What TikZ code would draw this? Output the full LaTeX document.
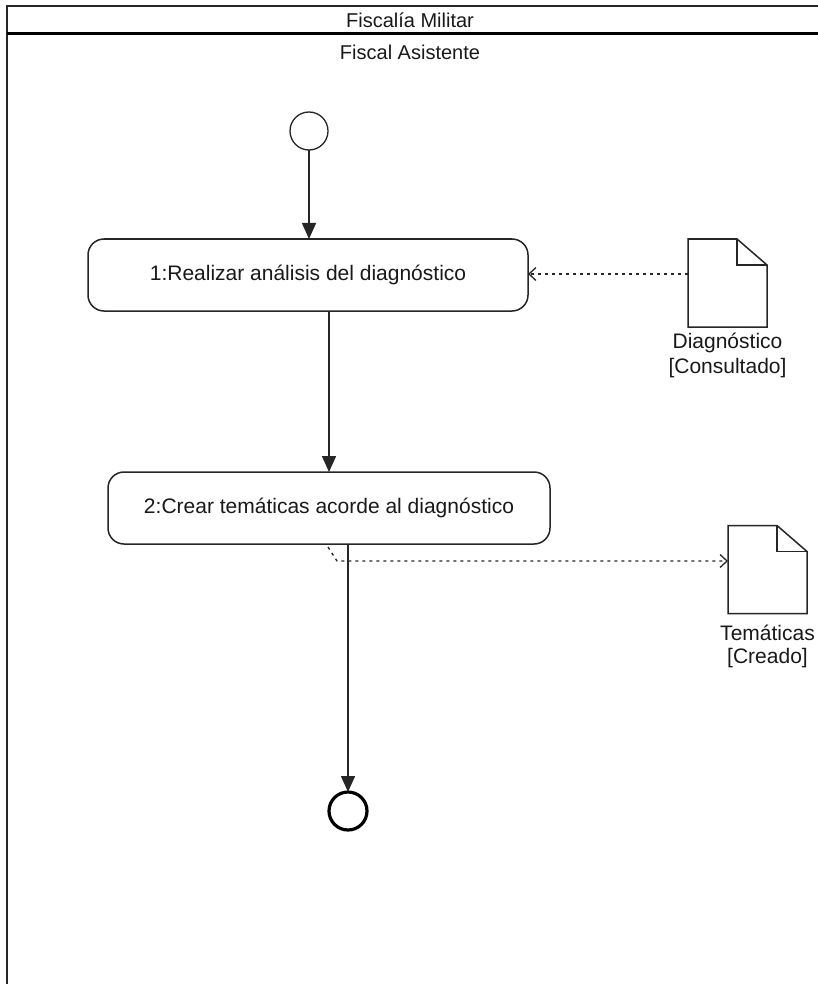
\documentclass[tikz,border=0pt]{standalone}
\usepackage{fontspec}
\setmainfont{Liberation Sans}
\usetikzlibrary{arrows.meta}
\begin{document}
\begin{tikzpicture}[x=1pt,y=-1pt,
  ink/.style={draw=black!85},
  lbl/.style={font=\fontsize{21}{25}\selectfont, text=black!90, inner sep=0pt},
  lanetitle/.style={font=\fontsize{20}{24}\selectfont, text=black!90, inner sep=0pt},
  action/.style={ink, line width=1.5pt, rounded corners=16pt, inner sep=0pt, outer sep=0pt,
    font=\fontsize{21}{25}\selectfont, text=black!90},
  initial/.style={ink, circle, line width=1.3pt, minimum size=38pt, inner sep=0pt, outer sep=0pt},
  final/.style={draw=black, circle, line width=3.2pt, minimum size=38pt, inner sep=0pt, outer sep=0pt},
  docnode/.style={minimum width=79pt, minimum height=88pt, inner sep=0pt, outer sep=0pt},
  docline/.style={ink, line width=1.5pt, line join=miter},
  flow/.style={ink, line width=1.5pt, -{Triangle[length=16pt,width=14pt]}},
  objflow/.style={ink, line width=1.3pt, dash pattern=on 3pt off 4pt,
    -{Straight Barb[length=7pt,width=13pt,line width=1.3pt]}}
]
\useasboundingbox (0,0) rectangle (818,984);
\fill[white] (0,0) rectangle (818,984);

% swimlane frame
\draw[ink, line width=1.8pt] (818,6) -- (7,6) -- (7,984);
\draw[draw=black, line width=3pt] (7,34) -- (818,34);
\node[lanetitle] (lane) at (410,20) {Fiscalía Militar};
\node[lanetitle] (role) at (410,52) {Fiscal Asistente};

% control nodes and actions
\node[initial] (start) at (309,131) {};
\node[action, minimum width=440pt, minimum height=72pt] (act1) at (308,275)
  {1:Realizar análisis del diagnóstico};
\node[action, minimum width=442pt, minimum height=72pt] (act2) at (329,508)
  {2:Crear temáticas acorde al diagnóstico};
\node[final] (end) at (348,811) {};

% object nodes (documents with folded corner)
\node[docnode] (doc1) at (727.5,283) {};
\node[docnode] (doc2) at (767.5,569.5) {};
\foreach \d in {doc1,doc2}{
  \draw[docline] (\d.north west) -- ([xshift=-30pt]\d.north east)
    -- ([yshift=-26pt]\d.north east) -- (\d.south east) -- (\d.south west) -- cycle;
  \draw[docline] ([xshift=-30pt]\d.north east) -- ++(0,26) -- ([yshift=-26pt]\d.north east);
}
\node[lbl] (doc1name) at (727.5,343) {Diagnóstico};
\node[lbl] (doc1state) at (727.5,368) {[Consultado]};
\node[lbl] (doc2name) at (767.5,633) {Temáticas};
\node[lbl] (doc2state) at (767.5,658) {[Creado]};

% control flow
\draw[flow] (start.south) -- (start.south |- act1.north);
\draw[flow] ([xshift=21pt]act1.south) -- ([xshift=21pt]act1.south |- act2.north);
\draw[flow] ([xshift=19pt]act2.south) -- (end.north);

% object flow
\draw[objflow] ([yshift=9pt]doc1.west) -- ([yshift=9pt]doc1.west -| act1.east);
\coordinate (bend) at (337,561);
\draw[objflow] ([xshift=-1pt,yshift=-3pt]act2.south) -- (bend) -- (bend -| doc2.west);
\end{tikzpicture}
\end{document}
